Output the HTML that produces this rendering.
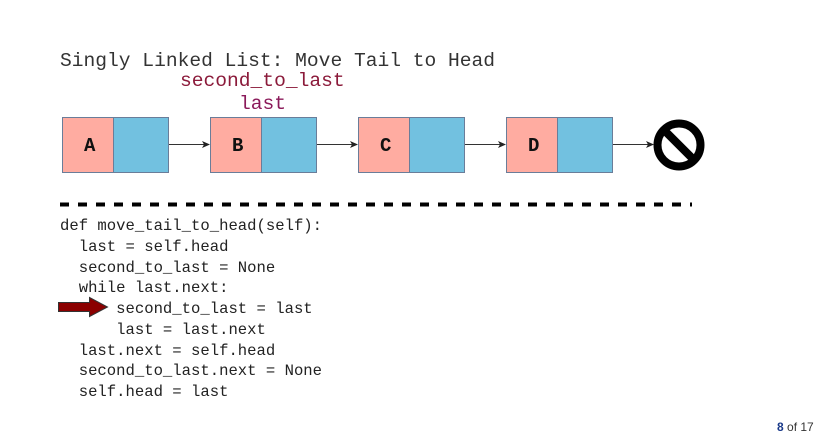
<!DOCTYPE html>
<html><head><meta charset="utf-8"><style>
body{margin:0;background:#fff;width:818px;height:436px;overflow:hidden;position:relative}
.t{position:absolute;font-family:"Liberation Mono",monospace;white-space:pre}
</style></head><body>
<svg width="818" height="436" style="position:absolute;left:0;top:0">
<defs><marker id="ah" markerWidth="8" markerHeight="8" refX="7" refY="4" orient="auto" markerUnits="userSpaceOnUse"><path d="M0,0.5 L8,4 L0,7.5 L2,4z" fill="#222"/></marker></defs>
<g stroke="#6a7d99" stroke-width="1">
<rect x="62.5" y="117.5" width="51" height="55" fill="#ffaca1"/><rect x="113.5" y="117.5" width="55" height="55" fill="#72c1e0"/>
<rect x="210.5" y="117.5" width="51" height="55" fill="#ffaca1"/><rect x="261.5" y="117.5" width="55" height="55" fill="#72c1e0"/>
<rect x="358.5" y="117.5" width="51" height="55" fill="#ffaca1"/><rect x="409.5" y="117.5" width="55" height="55" fill="#72c1e0"/>
<rect x="506.5" y="117.5" width="51" height="55" fill="#ffaca1"/><rect x="557.5" y="117.5" width="55" height="55" fill="#72c1e0"/>
</g>
<g stroke="#333" stroke-width="1" marker-end="url(#ah)">
<line x1="169" y1="144.5" x2="209" y2="144.5"/>
<line x1="317" y1="144.5" x2="357" y2="144.5"/>
<line x1="465" y1="144.5" x2="505" y2="144.5"/>
<line x1="613" y1="144.5" x2="653" y2="144.5"/>
</g>
<circle cx="679" cy="145" r="21.5" fill="none" stroke="#000" stroke-width="8"/>
<line x1="664" y1="130" x2="694" y2="160" stroke="#000" stroke-width="8"/>
<line x1="60" y1="204.5" x2="692" y2="204.5" stroke="#000" stroke-width="4" stroke-dasharray="9 9"/>
<path d="M58.5,302.5 H89.5 V297.5 L107.5,307 L89.5,316.5 V311.5 H58.5Z" fill="#8b0000" stroke="#333" stroke-width="1"/>
</svg>
<div class="t" style="left:60px;top:50px;font-size:19.6px;color:#333">Singly Linked List: Move Tail to Head</div>
<div class="t" style="left:180px;top:70px;font-size:19.6px;color:#8b1a3a">second_to_last</div>
<div class="t" style="left:239px;top:93px;font-size:19.6px;color:#8b1a5a">last</div>
<div class="t" style="left:84px;top:135px;font-size:19px;font-weight:bold;color:#111">A</div>
<div class="t" style="left:232px;top:135px;font-size:19px;font-weight:bold;color:#111">B</div>
<div class="t" style="left:380px;top:135px;font-size:19px;font-weight:bold;color:#111">C</div>
<div class="t" style="left:528px;top:135px;font-size:19px;font-weight:bold;color:#111">D</div>
<div class="t" style="left:60px;top:216px;font-size:15.6px;line-height:20.75px;color:#222">def move_tail_to_head(self):
  last = self.head
  second_to_last = None
  while last.next:
      second_to_last = last
      last = last.next
  last.next = self.head
  second_to_last.next = None
  self.head = last</div>
<div style="position:absolute;left:777px;top:420px;font-family:'Liberation Sans',sans-serif;font-size:12px;color:#333"><b style="color:#1a3a8a">8</b> of 17</div>
</body></html>
